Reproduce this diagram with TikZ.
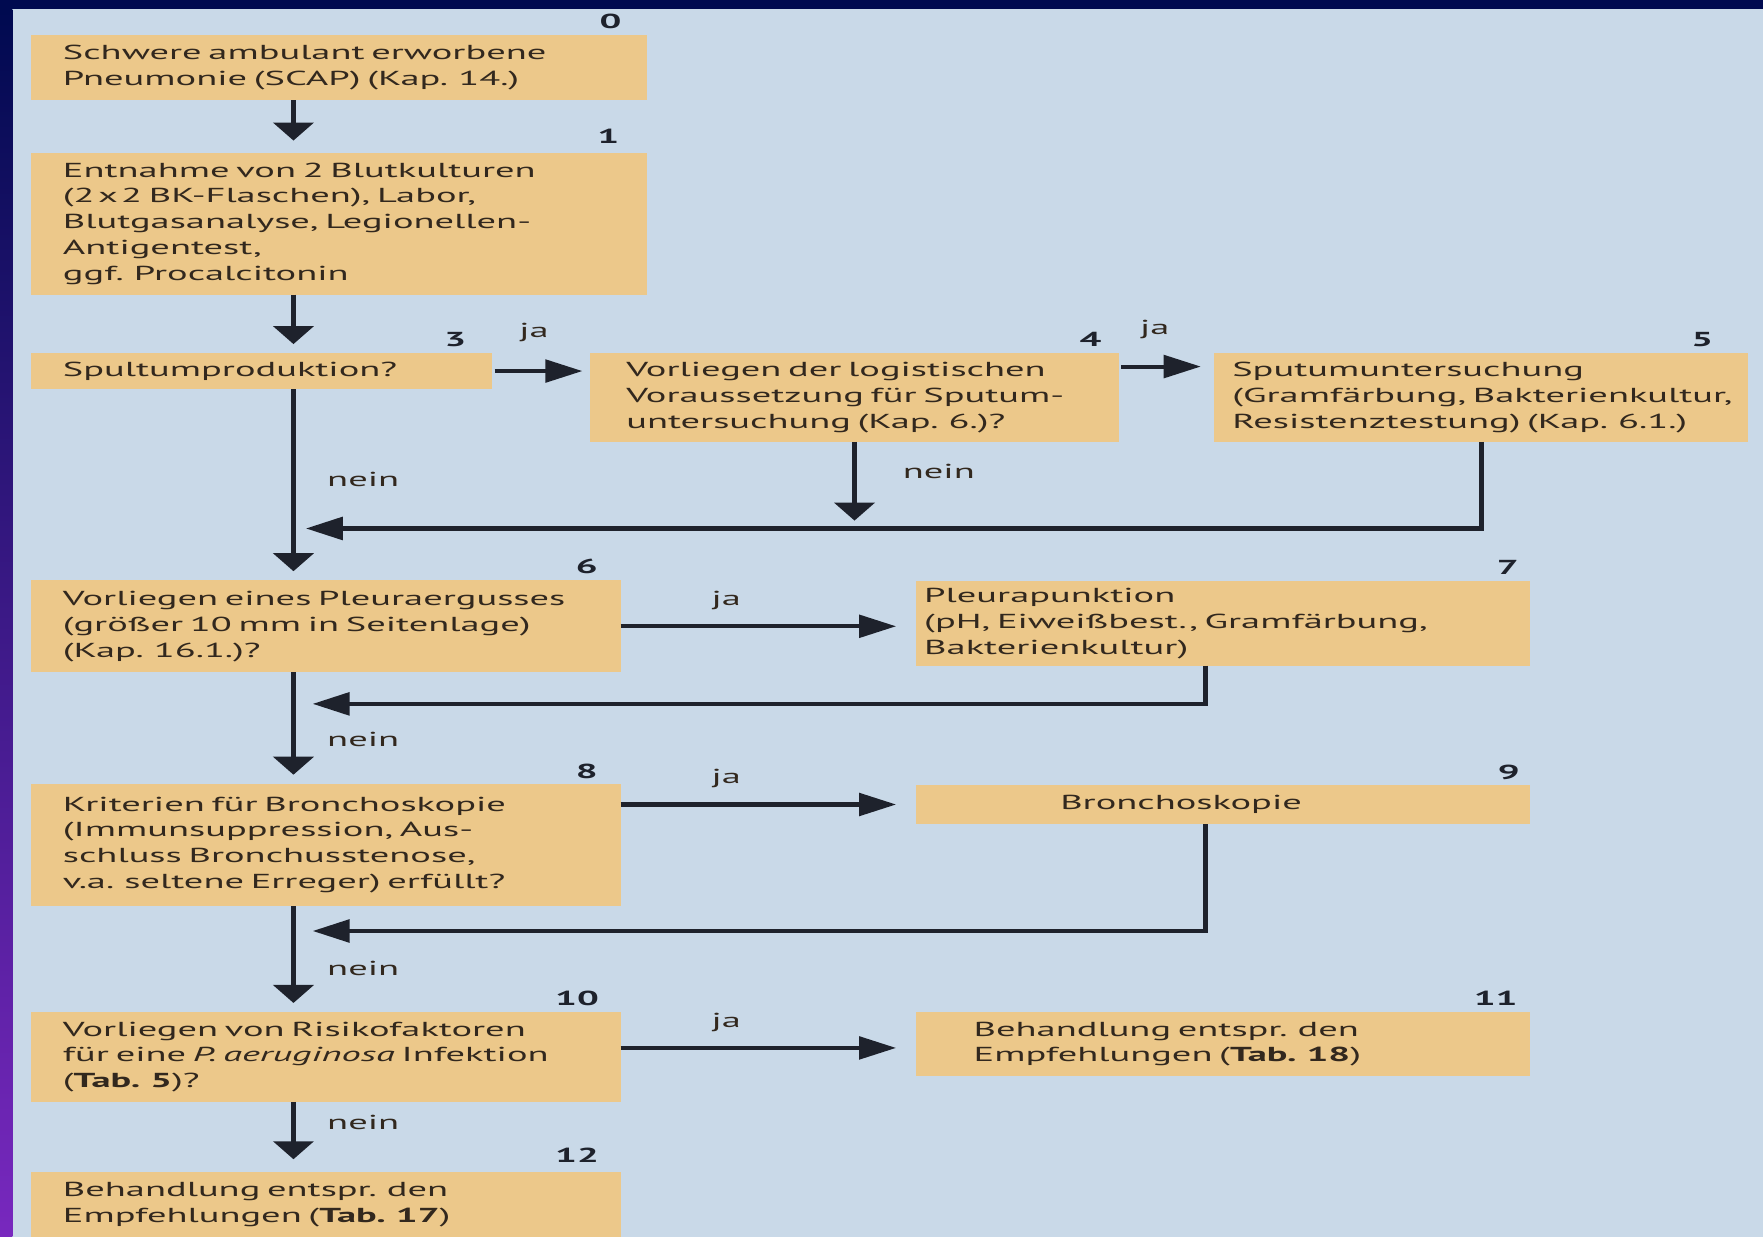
\documentclass[tikz,border=0pt]{standalone}
\usepackage{fontspec}
\setmainfont[FakeStretch=1.9]{PT Sans}
\usetikzlibrary{calc}
\usetikzlibrary{arrows.meta}
\usetikzlibrary{positioning}
\definecolor{navy}{RGB}{0, 10, 80}
\definecolor{indigo}{RGB}{20, 25, 170}
\definecolor{lilac}{RGB}{120, 40, 190}
\definecolor{paleblue}{RGB}{201, 217, 232}
\definecolor{sand}{RGB}{236, 200, 138}
\definecolor{ink}{RGB}{30, 34, 44}
\definecolor{umber}{RGB}{50, 40, 30}

\begin{document}
\begin{tikzpicture}[x=0.5pt, y=-0.5pt, font=\fontsize{9}{11.5}\selectfont,
    box/.style={fill=sand, text=umber, anchor=north west, align=left, inner ysep=0pt, outer sep=0pt},
    num/.style={font=\fontsize{9}{11}\selectfont\bfseries, text=ink, anchor=base east, inner sep=0pt},
    lab/.style={text=umber, inner sep=0pt},
    varrow/.style={draw=ink, line width=2.2pt, -{Triangle[length=8pt, width=17.8pt]}, shorten >=4pt},
    harrow/.style={draw=ink, line width=1.8pt, -{Triangle[length=16.5pt, width=10pt]}},
    ret/.style={draw=ink, line width=2pt, -{Triangle[length=16.5pt, width=10pt]}}]
    % Slide frame:
    \useasboundingbox (0,0) rectangle (1568,1100);
    \fill[paleblue]                                 (0,0)  rectangle (1568,1100);
    \fill[navy]                                     (0,0)  rectangle (1568,8);
    \shade[top color=navy, middle color=indigo, bottom color=lilac] (0,8) rectangle (11,1100);
    \coordinate (trunk) at (261,0);
    % Boxes:
    \node[box, text width=245.5pt, inner xsep=14pt, minimum height=29pt]   (b0)  at (28,31)
        {Schwere ambulant erworbene\\Pneumonie (SCAP) (Kap. 14.)};
    \node[box, text width=245.5pt, inner xsep=14pt, minimum height=63pt]   (b1)  at (28,136)
        {Entnahme von 2 Blutkulturen\\(2\,x\,2 BK-Flaschen), Labor,\\Blutgasanalyse, Legionellen-\\Antigentest,\\ggf. Procalcitonin};
    \node[box, text width=177pt,   inner xsep=14pt, minimum height=16pt]   (b3)  at (28,314)
        {Spultumproduktion?};
    \node[box, text width=203pt,   inner xsep=16pt, minimum height=39.5pt] (b4)  at (525,314)
        {Vorliegen der logistischen\\Voraussetzung für Sputum-\\untersuchung (Kap. 6.)?};
    \node[box, text width=221.5pt, inner xsep=8pt,  minimum height=39.5pt] (b5)  at (1080,314)
        {Sputumuntersuchung\\\mbox{(Gramfärbung, Bakterienkultur,}\\\mbox{Resistenztestung) (Kap. 6.1.)}};
    \node[box, text width=234pt,   inner xsep=14pt, minimum height=41pt]   (b6)  at (28,516)
        {Vorliegen eines Pleuraergusses\\(größer 10 mm in Seitenlage)\\(Kap. 16.1.)?};
    \node[box, text width=266pt,   inner xsep=3.5pt, minimum height=37.5pt] (b7) at (815,517)
        {Pleurapunktion\\(pH, Eiweißbest., Gramfärbung,\\Bakterienkultur)};
    \node[box, text width=234pt,   inner xsep=14pt, minimum height=54.5pt] (b8)  at (28,697)
        {Kriterien für Bronchoskopie\\(Immunsuppression, Aus-\\schluss Bronchusstenose,\\v.a. seltene Erreger) erfüllt?};
    \node[box, text width=145pt,   inner xsep=64pt, minimum height=17.5pt] (b9)  at (815,698)
        {Bronchoskopie};
    \node[box, text width=234pt,   inner xsep=14pt, minimum height=40pt]   (b10) at (28,900)
        {Vorliegen von Risikofaktoren\\für eine \textit{P. aeruginosa} Infektion\\(\textbf{Tab. 5})?};
    \node[box, text width=222pt,   inner xsep=25.5pt, minimum height=28.5pt] (b11) at (815,900)
        {Behandlung entspr. den\\Empfehlungen (\textbf{Tab. 18})};
    \node[box, text width=234pt,   inner xsep=14pt, minimum height=29pt]   (b12) at (28,1042)
        {Behandlung entspr. den\\Empfehlungen (\textbf{Tab. 17})};
    % Numbers:
    \node[num] (n0)  at ($(b0.north east)+(-22,-6)$)  {0};
    \node[num] (n1)  at ($(b1.north east)+(-24,-8)$)  {1};
    \node[num] (n3)  at ($(b3.north east)+(-23,-6)$)  {3};
    \node[num] (n4)  at ($(b4.north east)+(-15,-6)$)  {4};
    \node[num] (n5)  at ($(b5.north east)+(-31,-6)$)  {5};
    \node[num] (n6)  at ($(b6.north east)+(-20,-6)$)  {6};
    \node[num] (n7)  at ($(b7.north east)+(-10,-6)$)  {7};
    \node[num] (n8)  at ($(b8.north east)+(-20,-5)$)  {8};
    \node[num] (n9)  at ($(b9.north east)+(-9,-5)$)   {9};
    \node[num] (n10) at ($(b10.north east)+(-19,-6)$) {10};
    \node[num] (n11) at ($(b11.north east)+(-11,-6)$) {11};
    \node[num] (n12) at ($(b12.north east)+(-19,-8)$) {12};
    % Main trunk:
    \draw[varrow, shorten >=5.5pt] (trunk |- b0.south)  -- (trunk |- b1.north);
    \draw[varrow]                  (trunk |- b1.south)  -- (trunk |- b3.north);
    \draw[varrow]                  (trunk |- b3.south)  -- (trunk |- b6.north);
    \draw[varrow]                  (trunk |- b6.south)  -- (trunk |- b8.north);
    \draw[varrow]                  (trunk |- b8.south)  -- (trunk |- b10.north);
    \draw[varrow, shorten >=5.5pt] (trunk |- b10.south) -- (trunk |- b12.north);
    % Side branches:
    \draw[harrow, shorten <=1pt, shorten >=3.5pt] (b3.east) -- (b4.west |- b3.east);
    \draw[harrow, shorten <=1pt, shorten >=6pt]   ($(b4.north east)+(0,12)$) -- ($(b5.north west)+(0,12)$);
    \draw[harrow, shorten >=9pt]                  (b6.east) -- (b7.west |- b6.east);
    \draw[harrow, shorten >=9pt]                  (b8.east |- b9.west) -- (b9.west);
    \draw[harrow, shorten >=9pt]                  ($(b10.north east)+(0,32)$) -- ($(b11.north west)+(0,32)$);
    % Returns to the trunk:
    \coordinate (j5) at (261,470);
    \coordinate (j7) at (261,626);
    \coordinate (j9) at (261,828);
    \draw[varrow, shorten >=3.5pt] (b4.south) -- (b4.south |- j5);
    \draw[ret, shorten >=5.5pt]    (b5.south) |- (j5);
    \draw[ret, shorten >=8.5pt]    ($(b7.south west)+(257,0)$) |- (j7);
    \draw[ret, shorten >=8.5pt]    ($(b9.south west)+(257,0)$) |- (j9);
    % ja / nein:
    \node[lab] (ja3)    at (475,296) {ja};
    \node[lab] (ja4)    at (1027,293) {ja};
    \node[lab] (nein3)  at (323,426) {nein};
    \node[lab] (nein4)  at (835,419) {nein};
    \node[lab] (ja6)    at (646,534) {ja};
    \node[lab] (nein6)  at (323,658) {nein};
    \node[lab] (ja8)    at (646,692) {ja};
    \node[lab] (nein8)  at (323,861) {nein};
    \node[lab] (ja10)   at (646,909) {ja};
    \node[lab] (nein10) at (323,998) {nein};
\end{tikzpicture}
\end{document}
